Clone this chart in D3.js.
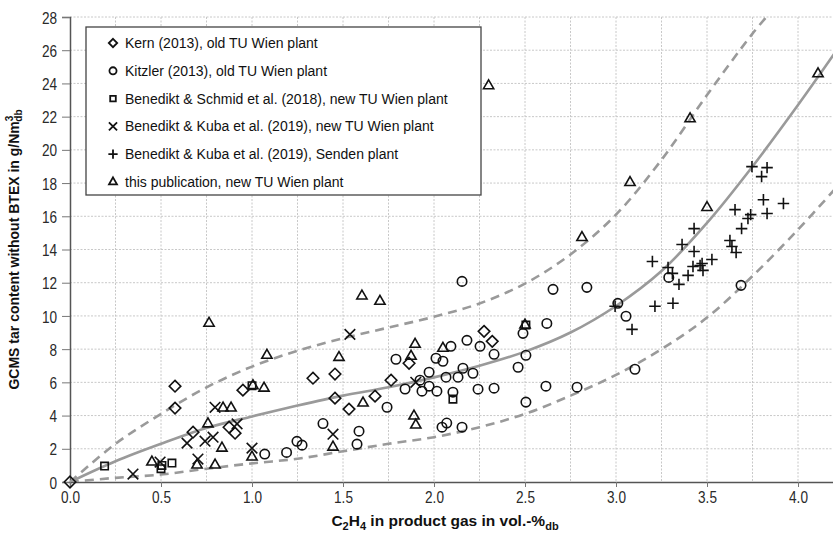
<!DOCTYPE html>
<html>
<head>
<meta charset="utf-8">
<script src="https://cdn.jsdelivr.net/npm/d3@7"></script>
<style>
  html, body { margin: 0; padding: 0; background: #fff; }
  svg { display: block; }
  .tick-label { font-family: "Liberation Sans", Arial, sans-serif; font-size: 17px; fill: #2a2a2a; }
  .legend-text { font-family: "Liberation Sans", Arial, sans-serif; font-size: 14px; fill: #111; }
  .axis-title { font-family: "Liberation Sans", Arial, sans-serif; font-size: 14px; font-weight: bold; fill: #111; }
</style>
</head>
<body>
<svg id="chart" width="833" height="535"></svg>
<script>
// ---------------- DATA ----------------
const xTicks = [0.0, 0.5, 1.0, 1.5, 2.0, 2.5, 3.0, 3.5, 4.0];
const yTicks = [0, 2, 4, 6, 8, 10, 12, 14, 16, 18, 20, 22, 24, 26, 28];

const seriesNames = [
  "Kern (2013), old TU Wien plant",
  "Kitzler (2013), old TU Wien plant",
  "Benedikt & Schmid et al. (2018), new TU Wien plant",
  "Benedikt & Kuba et al. (2019), new TU Wien plant",
  "Benedikt & Kuba et al. (2019), Senden plant",
  "this publication, new TU Wien plant"
];

const kern = [[0,0],[0.577,5.77],[0.577,4.45],[0.676,3.0],[0.874,3.3],[0.907,2.94],[0.95,5.53],
  [1.335,6.25],[1.456,6.5],[1.456,5.05],[1.533,4.39],[1.676,5.17],[1.764,6.13],[1.863,7.15],[2.275,9.07],[2.32,8.47]];

const kitzler = [[1.07,1.68],[1.19,1.78],[1.247,2.45],[1.275,2.22],[1.39,3.52],[1.577,2.28],[1.588,3.06],
  [1.742,4.5],[1.791,7.39],[1.841,5.6],[1.923,6.13],[1.934,5.47],[1.973,6.61],[1.973,5.77],[2.011,7.45],
  [2.016,5.47],[2.044,3.3],[2.049,7.27],[2.066,6.31],[2.07,3.55],[2.093,8.17],[2.104,5.41],[2.132,6.31],
  [2.154,3.3],[2.154,12.08],[2.159,6.85],[2.181,8.53],[2.214,6.55],[2.242,5.59],[2.253,8.17],[2.33,7.69],
  [2.33,5.65],[2.462,6.91],[2.489,8.95],[2.505,7.63],[2.505,4.81],[2.615,5.77],[2.62,9.55],[2.654,11.6],
  [2.786,5.71],[2.84,11.72],[3.01,10.76],[3.055,9.98],[3.104,6.79],[3.29,12.32],[3.687,11.84]];

const schmid = [[0.19,0.96],[0.5,0.8],[0.505,1.0],[0.56,1.14],[1.0,5.8],[2.104,4.99],[2.505,9.45]];

const kubaTU = [[0.346,0.48],[0.495,1.2],[0.643,2.34],[0.703,1.38],[0.742,2.46],[0.786,2.7],[0.797,4.5],
  [0.918,3.5],[1.0,2.04],[1.445,2.88],[1.538,8.89],[1.9,6.0]];

const kubaSenden = [[3.747,18.99],[3.83,18.93],[3.80,18.39],[3.81,17.0],[3.92,16.77],[3.654,16.4],[3.83,16.17],
  [3.74,16.1],[3.725,15.87],[3.69,15.26],[3.626,14.54],[3.637,14.18],[3.66,13.82],[3.429,15.26],[3.363,14.3],
  [3.429,13.88],[3.2,13.28],[3.527,13.4],[3.473,13.16],[3.462,13.04],[3.423,12.98],[3.478,12.74],[3.286,12.92],
  [3.396,12.44],[3.346,11.9],[3.214,10.58],[3.313,10.76],[2.995,10.58],[3.088,9.19],[3.31,12.56]];

const thisPub = [[0.45,1.2],[0.698,1.02],[0.758,3.5],[0.764,9.56],[0.797,1.02],[0.835,2.04],[0.841,4.45],
  [0.885,4.45],[1.0,1.5],[1.005,5.8],[1.066,5.65],[1.082,7.63],[1.445,2.1],[1.478,7.5],[1.604,11.2],
  [1.61,4.75],[1.703,10.88],[1.874,7.57],[1.89,3.97],[1.896,8.29],[1.9,3.43],[2.049,8.05],[2.3,23.86],
  [2.5,9.45],[2.813,14.72],[3.077,18.03],[3.407,21.87],[3.5,16.53],[4.11,24.58]];

// fit curves
const fitMid = [[0,0],[0.25,1.25],[0.5,2.3],[0.75,3.25],[1.0,3.95],[1.25,4.6],[1.5,5.2],[1.75,5.7],[2.0,6.3],
  [2.25,7.0],[2.5,7.85],[2.75,9.0],[3.0,10.6],[3.25,12.7],[3.5,15.6],[3.75,19.0],[4.0,22.7],[4.2,25.8]];
const fitUpper = [[0,0],[0.25,2.3],[0.5,4.1],[0.75,5.7],[1.0,6.95],[1.25,7.9],[1.5,8.65],[1.75,9.3],[2.0,9.95],
  [2.25,10.75],[2.5,11.95],[2.75,13.7],[3.0,16.1],[3.25,19.4],[3.5,23.3],[3.75,27.0],[3.85,28.3]];
const fitLower = [[0,0],[0.25,0.25],[0.5,0.45],[0.75,0.8],[1.0,1.12],[1.25,1.4],[1.5,1.85],[1.75,2.3],[2.0,2.7],
  [2.25,3.3],[2.5,4.1],[2.75,5.2],[3.0,6.45],[3.25,8.0],[3.5,9.9],[3.75,12.4],[4.0,15.2],[4.2,17.6]];

// ---------------- CHART ----------------
const svg = d3.select("#chart");
const W = 833;
const mLeft = 70, mTop = 17, mBottom = 482;
const narrow = 0.8;
const x = d3.scaleLinear().domain([0, 4.25]).range([mLeft, mLeft + 182 * 4.25]);
const y = d3.scaleLinear().domain([0, 28]).range([mBottom, mTop]);

svg.append("defs").append("clipPath").attr("id", "plotclip")
  .append("rect").attr("x", mLeft).attr("y", mTop - 1).attr("width", W - mLeft).attr("height", mBottom - mTop + 1);

// grid
const grid = svg.append("g");
const vGrid = d3.range(0.25, 4.26, 0.25);
grid.selectAll("line.v").data(vGrid).join("line")
  .attr("x1", d => x(d)).attr("x2", d => x(d)).attr("y1", mTop).attr("y2", mBottom)
  .attr("stroke", "#c8c8c8").attr("stroke-width", 1).attr("stroke-dasharray", "2,1.5");
grid.selectAll("line.h").data(yTicks.filter(d => d > 0)).join("line")
  .attr("x1", mLeft).attr("x2", W).attr("y1", d => y(d)).attr("y2", d => y(d))
  .attr("stroke", "#c8c8c8").attr("stroke-width", 1).attr("stroke-dasharray", "2,1.5");

// axes
const yAxis = d3.axisLeft(y).tickValues(yTicks).tickSize(8).tickFormat(d3.format("d"));
const gy = svg.append("g").attr("transform", `translate(${mLeft},0)`).call(yAxis);
gy.select(".domain").attr("stroke", "#555").attr("stroke-width", 1.5);
gy.selectAll(".tick line").attr("stroke", "#777").attr("stroke-width", 1);
gy.selectAll(".tick text").attr("class", "tick-label")
  .attr("transform", `scale(${narrow},1)`).attr("x", -13 / narrow).attr("dy", "0.36em");

const xAxis = d3.axisBottom(x).tickValues(xTicks).tickSize(5).tickFormat(d3.format(".1f"));
const gx = svg.append("g").attr("transform", `translate(0,${mBottom})`).call(xAxis);
gx.select(".domain").attr("stroke", "#555").attr("stroke-width", 1.5);
gx.selectAll(".tick line").attr("stroke", "#777").attr("stroke-width", 1);
gx.selectAll(".tick text").attr("class", "tick-label")
  .attr("transform", `scale(${narrow},1)`).attr("y", 9).attr("dy", "0.71em");

// fit lines
const line = d3.line().x(d => x(d[0])).y(d => y(d[1])).curve(d3.curveCatmullRom.alpha(0.5));
const plot = svg.append("g").attr("clip-path", "url(#plotclip)");
plot.append("path").datum(fitUpper).attr("d", line).attr("fill", "none")
  .attr("stroke", "#9a9a9a").attr("stroke-width", 2.6).attr("stroke-dasharray", "9,6");
plot.append("path").datum(fitLower).attr("d", line).attr("fill", "none")
  .attr("stroke", "#9a9a9a").attr("stroke-width", 2.6).attr("stroke-dasharray", "9,6");
plot.append("path").datum(fitMid).attr("d", line).attr("fill", "none")
  .attr("stroke", "#9a9a9a").attr("stroke-width", 2.6);

// markers
const symDefs = [
  { data: kern, type: d3.symbolDiamond2, size: 85 },
  { data: kitzler, type: d3.symbolCircle, size: 70 },
  { data: schmid, type: d3.symbolSquare2, size: 70 },
  { data: kubaTU, type: d3.symbolTimes, size: 75 },
  { data: kubaSenden, type: d3.symbolPlus, size: 45 },
  { data: thisPub, type: d3.symbolTriangle2, size: 75 }
];
const markers = svg.append("g");
symDefs.forEach((s, i) => {
  markers.append("g").selectAll("path").data(s.data).join("path")
    .attr("transform", d => `translate(${x(d[0])},${y(d[1])})`)
    .attr("d", d3.symbol().type(s.type).size(s.size))
    .attr("fill", "none").attr("stroke", "#111").attr("stroke-width", 1.6);
});

// legend
const lg = svg.append("g");
lg.append("rect").attr("x", 86).attr("y", 27).attr("width", 395).attr("height", 168)
  .attr("fill", "#fff").attr("stroke", "#444").attr("stroke-width", 1.3);
const legendY = d3.scalePoint().domain(d3.range(seriesNames.length)).range([43, 182]);
const legSizes = [45, 40, 40, 45, 30, 45];
seriesNames.forEach((name, i) => {
  const yy = legendY(i);
  lg.append("path").attr("transform", `translate(113,${yy})`)
    .attr("d", d3.symbol().type(symDefs[i].type).size(legSizes[i]))
    .attr("fill", "none").attr("stroke", "#111").attr("stroke-width", 1.8);
  lg.append("text").attr("class", "legend-text").attr("x", 125).attr("y", yy).attr("dy", "0.35em").text(name);
});

// axis titles
const xt = svg.append("text").attr("class", "axis-title").attr("x", 445).attr("y", 526)
  .attr("text-anchor", "middle").style("font-size", "15.5px");
xt.append("tspan").text("C");
xt.append("tspan").attr("font-size", "11px").attr("dy", 4).text("2");
xt.append("tspan").attr("dy", -4).text("H");
xt.append("tspan").attr("font-size", "11px").attr("dy", 4).text("4");
xt.append("tspan").attr("dy", -4).text(" in product gas in vol.-%");
xt.append("tspan").attr("font-size", "11px").attr("dy", 4).text("db");

const yt = svg.append("text").attr("class", "axis-title")
  .attr("transform", `translate(19,${(mTop + mBottom) / 2}) rotate(-90)`).attr("text-anchor", "middle");
yt.append("tspan").text("GCMS tar content without BTEX in g/Nm");
yt.append("tspan").attr("font-size", "10px").attr("dy", -6).text("3");
yt.append("tspan").attr("font-size", "10px").attr("dy", 9).attr("dx", -6).text("db");
</script>
</body>
</html>
